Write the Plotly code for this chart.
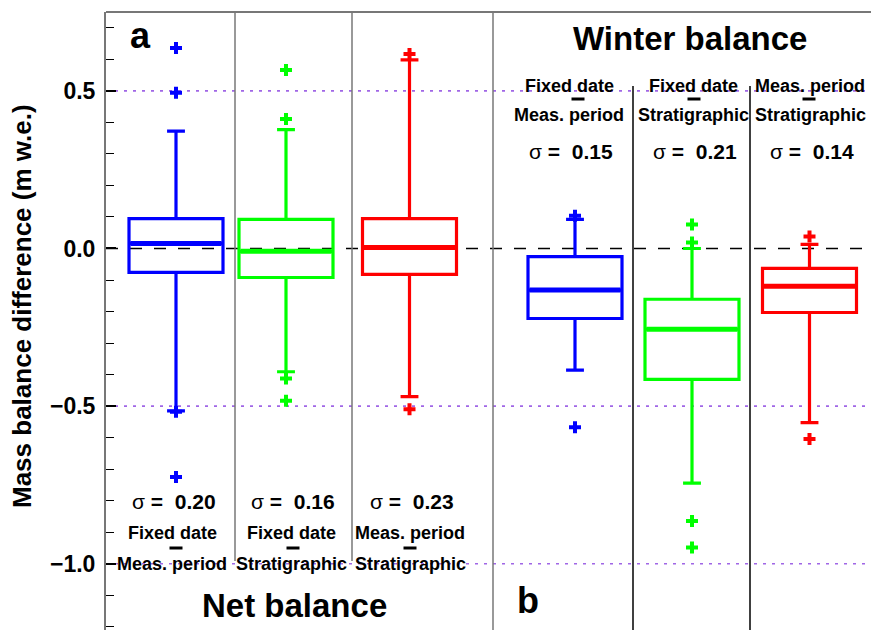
import plotly.graph_objects as go

# ---- data: box statistics (m w.e.) ----
colors = ["#0000ff", "#00ff00", "#ff0000", "#0000ff", "#00ff00", "#ff0000"]

q1 = [-0.076, -0.092, -0.082, -0.222, -0.415, -0.203]
median = [0.016, -0.009, 0.003, -0.132, -0.256, -0.120]
q3 = [0.095, 0.092, 0.095, -0.026, -0.161, -0.063]
lower_fence = [-0.515, -0.391, -0.470, -0.386, -0.744, -0.552]
upper_fence = [0.372, 0.377, 0.598, 0.092, 0.000, 0.013]
outliers = [
    [0.636, 0.494, -0.518, -0.725],
    [0.566, 0.411, -0.412, -0.483],
    [0.617, -0.510],
    [0.104, -0.567],
    [0.076, 0.019, -0.864, -0.948],
    [0.038, -0.604],
]

sigma = ["0.20", "0.16", "0.23", "0.15", "0.21", "0.14"]
label_top = ["Fixed date", "Fixed date", "Meas. period",
             "Fixed date", "Fixed date", "Meas. period"]
label_bottom = ["Meas. period", "Stratigraphic", "Stratigraphic",
                "Meas. period", "Stratigraphic", "Stratigraphic"]

# ---- layout helpers ----
W, H = 871, 630
ML, MT = 106, 12
YMIN, YMAX = -1.21, 0.75
x_pos = [70, 180, 303.5, 469, 586, 703.5]        # box centres (x units = px from axis)
box_w = 94
seps_left = [129, 246]                            # panel separators, net balance
seps_right = [527, 644]                           # panel separators, winter balance
mid_sep = 387
text_x = [68, 187, 306, 465, 589, 706]
dash_x = [70, 187, 304, 472, 588, 703]
FONT = "Liberation Sans, Arial, sans-serif"


def py(pix):
    """pixel row -> paper y"""
    return 1 - (pix - MT) / (H - MT)


fig = go.Figure()

for i in range(6):
    fig.add_trace(go.Box(
        x=[x_pos[i]], q1=[q1[i]], median=[median[i]], q3=[q3[i]],
        lowerfence=[lower_fence[i]], upperfence=[upper_fence[i]],
        width=box_w, whiskerwidth=0.19,
        line=dict(color=colors[i], width=3.2),
        fillcolor="rgba(0,0,0,0)", boxpoints=False, hoverinfo="skip",
    ))
    # heavier median bar
    fig.add_trace(go.Scatter(
        x=[x_pos[i] - box_w / 2 + 1.5, x_pos[i] + box_w / 2 - 1.5],
        y=[median[i], median[i]], mode="lines",
        line=dict(color=colors[i], width=5), hoverinfo="skip",
    ))
    fig.add_trace(go.Scatter(
        x=[x_pos[i]] * len(outliers[i]), y=outliers[i], mode="markers",
        marker=dict(symbol="cross", size=10, color=colors[i],
                    line=dict(width=0)),
        hoverinfo="skip",
    ))

shapes = []
# reference lines
for yv in [0.5, -0.5, -1.0]:
    shapes.append(dict(type="line", xref="x", yref="y", x0=0, x1=765, y0=yv, y1=yv,
                       line=dict(color="#a066e6", width=1.6, dash="3px,6px"), layer="below"))
shapes.append(dict(type="line", xref="x", yref="y", x0=0, x1=765, y0=0, y1=0,
                   line=dict(color="black", width=1.5, dash="12px,12px"), layer="below"))
# frame top
shapes.append(dict(type="line", xref="x", yref="paper", x0=0, x1=765, y0=1, y1=1,
                   line=dict(color="#777777", width=2)))
# separators
for xs in seps_left:
    shapes.append(dict(type="line", xref="x", yref="paper", x0=xs, x1=xs,
                       y0=py(561), y1=1, line=dict(color="#777777", width=1.5)))
shapes.append(dict(type="line", xref="x", yref="paper", x0=mid_sep, x1=mid_sep,
                   y0=0, y1=1, line=dict(color="#777777", width=1.5)))
for xs in seps_right:
    shapes.append(dict(type="line", xref="x", yref="paper", x0=xs, x1=xs,
                       y0=0, y1=py(86), line=dict(color="black", width=1.5)))
# minus bars between the two method names
for i in range(6):
    ypix = 548 if i < 3 else 99
    shapes.append(dict(type="line", xref="x", yref="paper",
                       x0=dash_x[i] - 6.5, x1=dash_x[i] + 6.5,
                       y0=py(ypix), y1=py(ypix), line=dict(color="black", width=3)))

ann = []


def add_text(x, ypix, text, size, xref="x"):
    ann.append(dict(x=x, y=py(ypix), xref=xref, yref="paper", text=text,
                    showarrow=False, xanchor="center", yanchor="middle",
                    font=dict(family=FONT, size=size, color="black", weight="bold")))


for i in range(6):
    if i < 3:
        y_sig, y_top, y_bot = 501, 533, 564
    else:
        y_sig, y_top, y_bot = 151, 86, 115
    add_text(text_x[i], y_sig,
             "<span style='font-weight:normal'>σ</span> =\u00a0\u00a0" + sigma[i], 21)
    add_text(text_x[i] - 2, y_top, label_top[i], 18)
    add_text(text_x[i] - 2, y_bot, label_bottom[i], 18)

add_text(188, 605, "Net balance", 33)
add_text(584, 38, "Winter balance", 33)
add_text(34, 36, "a", 36)
add_text(422, 600, "b", 36)

ann.append(dict(x=(22 - ML) / (W - ML), y=py(306), xref="paper", yref="paper",
                text="Mass balance difference (m w.e.)", textangle=-90,
                showarrow=False, xanchor="center", yanchor="middle",
                font=dict(family=FONT, size=26, color="black", weight="bold")))

fig.update_layout(
    width=W, height=H,
    margin=dict(l=ML, r=0, t=MT, b=0, pad=0),
    paper_bgcolor="white", plot_bgcolor="white",
    showlegend=False, hovermode=False,
    shapes=shapes, annotations=ann,
    xaxis=dict(range=[0, 765], visible=False, fixedrange=True),
    yaxis=dict(range=[YMIN, YMAX], tickvals=[-1.0, -0.5, 0.0, 0.5],
               tickformat=".1f", ticks="inside", ticklen=10, tickwidth=1.5,
               tickcolor="black", showgrid=False, zeroline=False,
               showline=True, linecolor="#777777", linewidth=2,
               tickfont=dict(family=FONT, size=23, color="black", weight="bold"),
               ticklabelstandoff=4,
               minor=dict(dtick=0.1, tick0=0, ticks="inside", ticklen=8,
                          tickwidth=1.2, tickcolor="black"),
               fixedrange=True),
)

fig.write_html("out.html")
